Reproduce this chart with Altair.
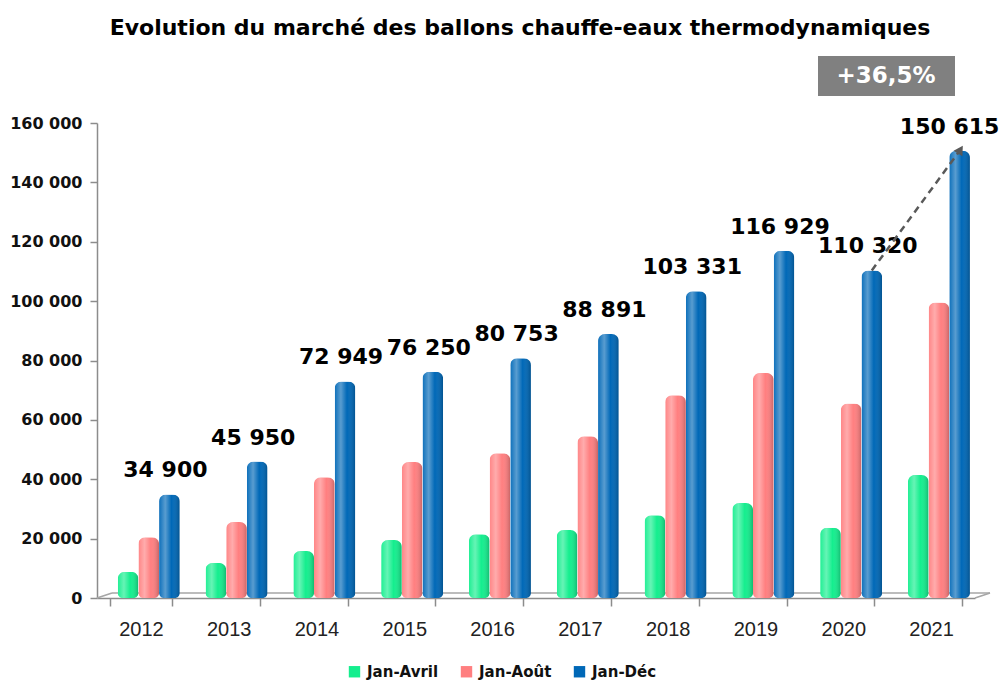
import altair as alt
import pandas as pd

years = ["2012", "2013", "2014", "2015", "2016", "2017", "2018", "2019", "2020", "2021"]
jan_avril = [8800, 11800, 15800, 19500, 21500, 22900, 27900, 32000, 23700, 41400]
jan_aout = [20500, 25600, 40700, 45800, 48800, 54500, 68300, 75800, 65500, 99500]
jan_dec = [34900, 45950, 72949, 76250, 80753, 88891, 103331, 116929, 110320, 150615]
series = ["Jan-Avril", "Jan-Août", "Jan-Déc"]
colors = ["#14EE8E", "#FF7F80", "#0068B7"]
y_ticks = [0, 20000, 40000, 60000, 80000, 100000, 120000, 140000, 160000]
title_text = "Evolution du marché des ballons chauffe-eaux thermodynamiques"
growth_text = "+36,5%"

rows = []
for s, vals in zip(series, [jan_avril, jan_aout, jan_dec]):
    for yr, v in zip(years, vals):
        rows.append({"year": yr, "series": s, "value": v})
df = pd.DataFrame(rows)

labels_df = pd.DataFrame({
    "year": years,
    "series": ["Jan-Déc"] * len(years),
    "value": jan_dec,
    "label": [f"{v:,}".replace(",", " ") for v in jan_dec],
})

arrow_df = pd.DataFrame({
    "year": years[-2:],
    "series": ["Jan-Déc", "Jan-Déc"],
    "value": jan_dec[-2:],
})

GRAY = "#8c8c8c"

x_enc = alt.X(
    "year:N",
    sort=years,
    title=None,
    scale=alt.Scale(paddingInner=0.29, paddingOuter=0.145),
    axis=alt.Axis(
        labelAngle=0, labelFont="Liberation Sans", labelFontSize=20,
        labelColor="#222222", labelPadding=13, tickBand="extent",
        tickSize=8, tickColor=GRAY, domainColor=GRAY,
        domainWidth=1.5, tickWidth=1.5,
    ),
)
xoff = alt.XOffset("series:N", sort=series,
                   scale=alt.Scale(paddingInner=0, paddingOuter=0, range=[8, 70]))
y_enc = alt.Y(
    "value:Q",
    title=None,
    scale=alt.Scale(domain=[0, 160000], nice=False),
    axis=alt.Axis(
        values=y_ticks, grid=False,
        labelExpr="replace(format(datum.value, ','), ',', ' ')",
        labelFont="DejaVu Sans", labelFontWeight="bold", labelFontSize=16,
        labelColor="#111111", labelPadding=8, tickSize=7,
        tickColor=GRAY, domainColor=GRAY, domainWidth=1.5, tickWidth=1.5,
    ),
)

base = alt.Chart(df)

bars = base.mark_bar(
    cornerRadiusTopLeft=7, cornerRadiusTopRight=7,
    cornerRadiusBottomLeft=5, cornerRadiusBottomRight=5,
).encode(
    x=x_enc,
    xOffset=xoff,
    y=y_enc,
    color=alt.Color(
        "series:N", sort=series,
        scale=alt.Scale(domain=series, range=colors),
        legend=alt.Legend(
            title=None, orient="none", direction="horizontal",
            legendX=250, legendY=541,
            symbolType="square", symbolSize=130, symbolStrokeWidth=0,
            labelFont="DejaVu Sans", labelFontWeight="bold", labelFontSize=15,
            labelColor="#111111", columnPadding=20, labelOffset=5,
        ),
    ),
)

shine = base.mark_bar(
    cornerRadiusTopLeft=7, cornerRadiusTopRight=7,
    cornerRadiusBottomLeft=5, cornerRadiusBottomRight=5,
    color=alt.Gradient(
        gradient="linear", x1=0, x2=1, y1=0, y2=0,
        stops=[
            alt.GradientStop(color="rgba(255,255,255,0.05)", offset=0),
            alt.GradientStop(color="rgba(255,255,255,0.35)", offset=0.3),
            alt.GradientStop(color="rgba(255,255,255,0.0)", offset=0.6),
            alt.GradientStop(color="rgba(0,0,0,0.22)", offset=1),
        ],
    ),
).encode(x=alt.X("year:N", sort=years), xOffset=xoff, y="value:Q")

label_enc = dict(
    x=alt.X("year:N", sort=years), xOffset=xoff, y="value:Q", text="label:N",
)
labels = alt.Chart(labels_df.iloc[:-1]).mark_text(
    font="DejaVu Sans", fontWeight="bold", fontSize=22, color="#000000",
    baseline="bottom", dy=-12, dx=-4,
).encode(**label_enc)
label_last = alt.Chart(labels_df.iloc[[-1]]).mark_text(
    font="DejaVu Sans", fontWeight="bold", fontSize=22, color="#000000",
    baseline="bottom", dy=-12, dx=-10,
).encode(**label_enc)

arrow_line = alt.Chart(arrow_df).mark_line(
    color="#595959", strokeDash=[7, 5], strokeWidth=2.5,
).encode(
    x=alt.X("year:N", sort=years), xOffset=xoff, y="value:Q",
)

arrow_head = alt.Chart(arrow_df.iloc[[1]]).mark_point(
    shape="triangle", filled=True, color="#595959", size=110, angle=32, opacity=1,
).encode(
    x=alt.X("year:N", sort=years), xOffset=xoff, y="value:Q",
)

# 3D floor outline (decoration)
floor_df = pd.DataFrame({"k": ["back", "left", "right"]})
floor_back = alt.Chart(floor_df.iloc[[0]]).mark_rule(color="#a6a6a6", strokeWidth=1.5).encode(
    x=alt.value(15), x2=alt.value(893), y=alt.value(470), y2=alt.value(470),
)
floor_left = alt.Chart(floor_df.iloc[[1]]).mark_rule(color="#a6a6a6", strokeWidth=1.5).encode(
    x=alt.value(0), x2=alt.value(15), y=alt.value(475), y2=alt.value(470),
)
floor_right = alt.Chart(floor_df.iloc[[2]]).mark_rule(color="#a6a6a6", strokeWidth=1.5).encode(
    x=alt.value(878), x2=alt.value(893), y=alt.value(475), y2=alt.value(470),
)

box = alt.Chart(pd.DataFrame({"t": [growth_text]})).mark_rect(color="#808080").encode(
    x=alt.value(721), x2=alt.value(858), y=alt.value(-67), y2=alt.value(-27),
)
box_text = alt.Chart(pd.DataFrame({"t": [growth_text]})).mark_text(
    font="DejaVu Sans", fontWeight="bold", fontSize=23, color="#ffffff",
    baseline="middle", align="center",
).encode(x=alt.value(789), y=alt.value(-47), text="t:N")

title = alt.Chart(pd.DataFrame({"t": [title_text]})).mark_text(
    font="DejaVu Sans", fontWeight="bold", fontSize=22, color="#000000",
    baseline="middle", align="center",
).encode(x=alt.value(423), y=alt.value(-95), text="t:N")

chart = alt.layer(
    floor_back, floor_left, floor_right,
    bars, shine, labels, label_last, arrow_line, arrow_head, box, box_text, title
).properties(
    width=878, height=475,
    background="#ffffff",
    autosize=alt.AutoSizeParams(type="none"),
    padding={"left": 89, "top": 115, "right": 25, "bottom": 84},
).configure_view(stroke=None)

chart.save("out.html", embed_options={"renderer": "svg", "actions": False})
